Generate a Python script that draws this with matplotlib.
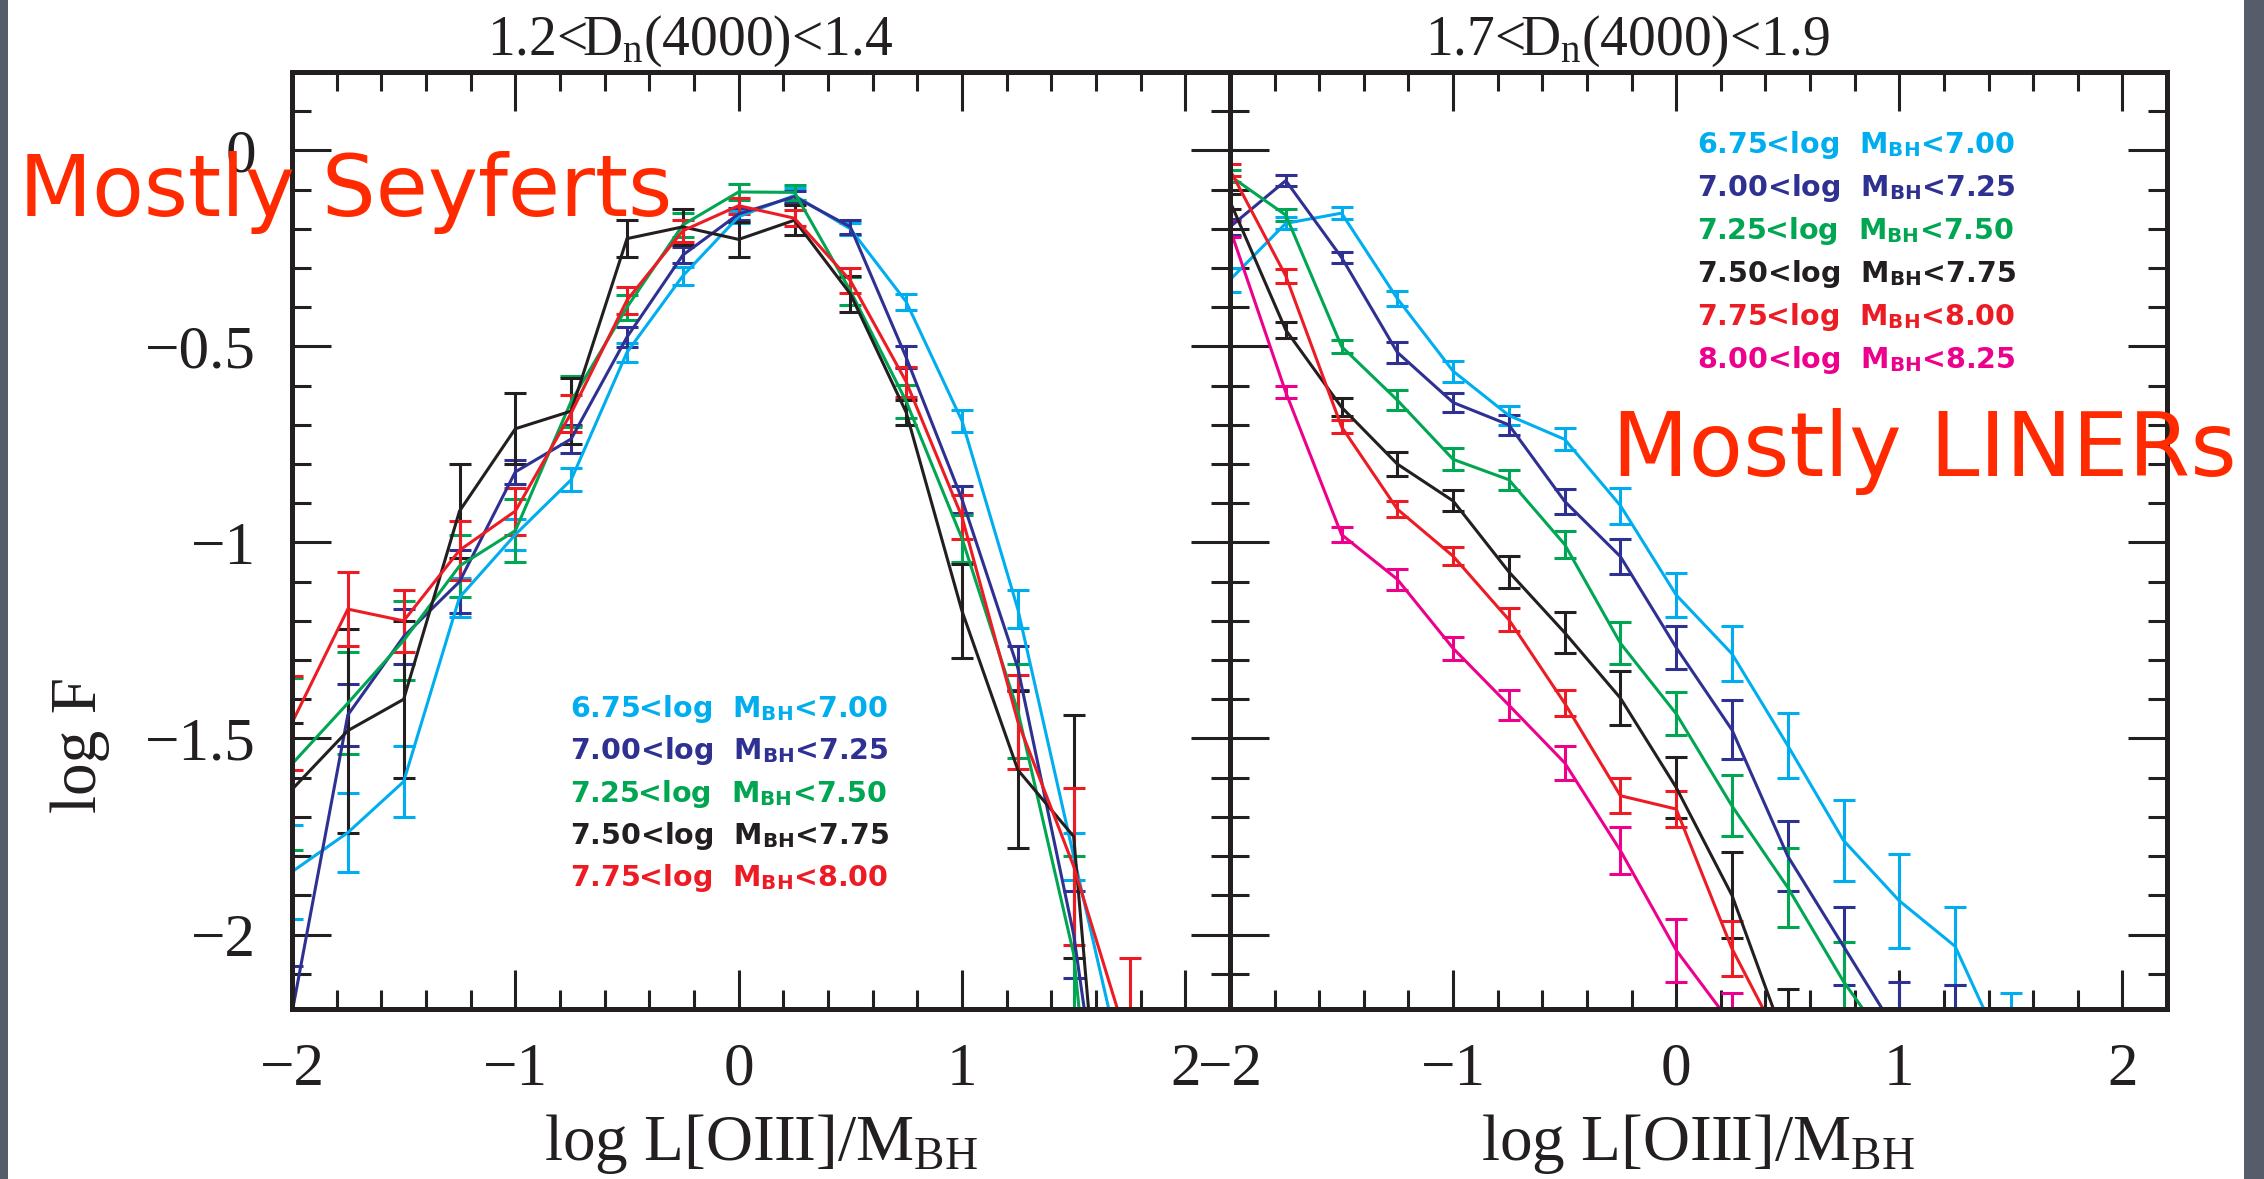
import numpy as np
import matplotlib.pyplot as plt
from matplotlib.patches import Rectangle

W, H = 2264, 1179
DPI = 100

plt.rcParams['font.family'] = ['Liberation Serif', 'DejaVu Serif']
plt.rcParams['mathtext.fontset'] = 'custom'
plt.rcParams['mathtext.rm'] = 'Liberation Serif'
plt.rcParams['mathtext.it'] = 'Liberation Serif:italic'
plt.rcParams['mathtext.bf'] = 'DejaVu Sans:bold'

# ---------------- data ----------------
x_bins = [-2.0, -1.75, -1.5, -1.25, -1.0, -0.75, -0.5, -0.25,
          0.0, 0.25, 0.5, 0.75, 1.0, 1.25, 1.5, 1.75]

mass_edges = ['6.75', '7.00', '7.25', '7.50', '7.75', '8.00', '8.25']
series_colors = ['#00aeef', '#2e3192', '#00a651', '#231f20', '#ed1c24', '#ec008c']

# left panel: 1.2 < Dn(4000) < 1.4
left_cyan_y = [-1.84, -1.74, -1.61, -1.14, -0.98, -0.84, -0.515, -0.32,
               -0.169, -0.115, -0.20, -0.386, -0.69, -1.17, -1.80, -2.42]
left_cyan_err = [0.12, 0.10, 0.09, 0.05, 0.04, 0.03, 0.024, 0.023,
                 0.015, 0.02, 0.015, 0.021, 0.028, 0.048, 0.06, 0.10]
left_navy_y = [-2.20, -1.44, -1.24, -1.10, -0.82, -0.736, -0.476, -0.267,
               -0.162, -0.118, -0.195, -0.528, -0.89, -1.32, -2.00, -3.00]
left_navy_err = [0.12, 0.08, 0.07, 0.08, 0.03, 0.036, 0.026, 0.021,
                 0.016, 0.015, 0.017, 0.028, 0.035, 0.057, 0.11, 0.2]
left_green_y = [-1.565, -1.41, -1.25, -1.06, -0.97, -0.64, -0.40, -0.19,
                -0.106, -0.107, -0.358, -0.64, -0.99, -1.43, -2.05, -3.5]
left_green_err = [0.22, 0.13, 0.10, 0.08, 0.08, 0.065, 0.032, 0.03,
                  0.02, 0.02, 0.036, 0.042, 0.06, 0.12, 0.25, 0.3]
left_black_y = [-1.63, -1.48, -1.40, -0.92, -0.71, -0.665, -0.225, -0.195,
                -0.227, -0.178, -0.366, -0.668, -1.175, -1.58, -1.75, -3.4]
left_black_err = [0.17, 0.26, 0.20, 0.12, 0.09, 0.085, 0.047, 0.045,
                  0.045, 0.038, 0.045, 0.032, 0.12, 0.2, 0.31, 0.3]
left_red_y = [-1.46, -1.17, -1.20, -1.02, -0.92, -0.67, -0.382, -0.205,
              -0.141, -0.173, -0.332, -0.59, -0.935, -1.457, -1.826, -2.29]
left_red_err = [0.12, 0.095, 0.08, 0.075, 0.06, 0.047, 0.034, 0.028,
                0.02, 0.021, 0.032, 0.038, 0.055, 0.12, 0.2, 0.23]

# right panel: 1.7 < Dn(4000) < 1.9
right_cyan_y = [-0.33, -0.186, -0.16, -0.378, -0.563, -0.676, -0.737, -0.906,
                -1.134, -1.284, -1.518, -1.76, -1.914, -2.03, -2.34]
right_cyan_err = [0.03, 0.015, 0.015, 0.02, 0.027, 0.025, 0.028, 0.046,
                  0.056, 0.07, 0.082, 0.104, 0.12, 0.10, 0.19]
right_navy_y = [-0.195, -0.077, -0.273, -0.515, -0.643, -0.70, -0.895, -1.036,
                -1.268, -1.478, -1.80, -2.03, -2.26, -2.26]
right_navy_err = [0.02, 0.015, 0.015, 0.027, 0.023, 0.025, 0.032, 0.045,
                  0.055, 0.075, 0.09, 0.10, 0.14, 0.13]
right_green_y = [-0.065, -0.165, -0.50, -0.637, -0.788, -0.84, -1.005, -1.257,
                 -1.437, -1.672, -1.88, -2.12, -2.32]
right_green_err = [0.015, 0.015, 0.017, 0.025, 0.028, 0.025, 0.035, 0.053,
                   0.055, 0.078, 0.10, 0.10, 0.13]
right_black_y = [-0.13, -0.458, -0.655, -0.80, -0.894, -1.075, -1.23, -1.397,
                 -1.625, -1.90, -2.29]
right_black_err = [0.02, 0.02, 0.023, 0.03, 0.027, 0.04, 0.053, 0.069,
                   0.078, 0.11, 0.15]
right_red_y = [-0.05, -0.32, -0.705, -0.915, -1.035, -1.197, -1.41, -1.646,
               -1.68, -2.036, -2.31]
right_red_err = [0.015, 0.017, 0.017, 0.02, 0.023, 0.03, 0.033, 0.045,
                 0.047, 0.07, 0.07]
right_mag_y = [-0.20, -0.617, -0.98, -1.094, -1.27, -1.415, -1.562, -1.786,
               -2.04, -2.23]
right_mag_err = [0.02, 0.015, 0.02, 0.027, 0.03, 0.038, 0.044, 0.06,
                 0.08, 0.08]

left_series = [(left_cyan_y, left_cyan_err), (left_navy_y, left_navy_err),
               (left_green_y, left_green_err), (left_black_y, left_black_err),
               (left_red_y, left_red_err)]
right_series = [(right_cyan_y, right_cyan_err), (right_navy_y, right_navy_err),
                (right_green_y, right_green_err), (right_black_y, right_black_err),
                (right_red_y, right_red_err), (right_mag_y, right_mag_err)]

panel_titles = [r'1.2<D$_\mathrm{n}$(4000)<1.4', r'1.7<D$_\mathrm{n}$(4000)<1.9']
xticks = [-2, -1, 0, 1, 2]
xtick_labels = ['\u22122', '\u22121', '0', '1', '2']
yticks = [0, -0.5, -1, -1.5, -2]
ytick_labels = ['0', '\u22120.5', '\u22121', '\u22121.5', '\u22122']
xlabel = r'log L[OIII]/M$_\mathrm{BH}$'
ylabel = 'log F'

# ---------------- figure ----------------
fig = plt.figure(figsize=(W / DPI, H / DPI), dpi=DPI, facecolor='#565c69')
fig.add_artist(Rectangle((8 / W, 0), (2244 - 8) / W, 1, transform=fig.transFigure,
                         facecolor='white', edgecolor='none', zorder=-10))


def px_box(x0, y0, x1, y1):
    return [x0 / W, 1 - y1 / H, (x1 - x0) / W, (y1 - y0) / H]


def fx(px):
    return px / W


def fy(py):
    return 1 - py / H


ax_l = fig.add_axes(px_box(292, 72, 1230, 1009))
ax_r = fig.add_axes(px_box(1230, 72, 2167, 1009))

ink = '#231f20'
for ax, with_ylab in [(ax_l, True), (ax_r, False)]:
    ax.set_xlim(-2, 2.2)
    ax.set_ylim(-2.19, 0.2)
    ax.set_xticks(xticks, labels=xtick_labels)
    ax.set_xticks(np.arange(-2, 2.21, 0.2), minor=True)
    ax.set_yticks(yticks, labels=ytick_labels if with_ylab else [])
    ax.set_yticks(np.arange(-2.1, 0.15, 0.1), minor=True)
    ax.tick_params(which='both', direction='in', top=True, right=True,
                   color=ink, labelsize=44, labelcolor=ink)
    ax.tick_params(which='major', length=28, width=2.2, pad=24)
    ax.tick_params(which='minor', length=14, width=2.2)
    ax.tick_params(axis='y', which='major', pad=26)
    for s in ax.spines.values():
        s.set_linewidth(3.6)
        s.set_color(ink)

for ax, series in [(ax_l, left_series), (ax_r, right_series)]:
    for (yv, ev), c in zip(series, series_colors):
        n = len(yv)
        ax.errorbar(x_bins[:n], yv, yerr=ev, color=c, lw=2.2, elinewidth=2.2,
                    capsize=8, capthick=2.2)

# titles
for ax, t in zip([ax_l, ax_r], panel_titles):
    ax.text(0.424, 1 + 17 / 937, t, transform=ax.transAxes, ha='center',
            va='baseline', fontsize=40, color=ink)

# axis labels
fig.text(fx(80), fy(745), ylabel, rotation=90, ha='center', va='center',
         fontsize=47, color=ink)
for cx in [761, 1698]:
    fig.text(fx(cx), fy(1160), xlabel, ha='center', va='baseline',
             fontsize=47, color=ink)

# legends as coloured text
legend_labels = [mass_edges[i] + '<log  M$_\\mathbf{BH}$<' + mass_edges[i + 1]
                 for i in range(6)]
for i in range(5):
    fig.text(fx(570), fy(717 + 42.3 * i), legend_labels[i], color=series_colors[i],
             family='DejaVu Sans', weight='bold', fontsize=20.5, va='baseline')
for i in range(6):
    fig.text(fx(1697), fy(153 + 43 * i), legend_labels[i], color=series_colors[i],
             family='DejaVu Sans', weight='bold', fontsize=20.5, va='baseline')

# red annotations
fig.text(fx(19), fy(216), 'Mostly Seyferts', color='#ff2a00', fontsize=61,
         family='DejaVu Sans', va='baseline', zorder=5)
fig.text(fx(1612), fy(476), 'Mostly LINERs', color='#ff2a00', fontsize=64,
         family='DejaVu Sans', va='baseline', zorder=5)

fig.savefig('out.png', dpi=DPI, facecolor=fig.get_facecolor())
